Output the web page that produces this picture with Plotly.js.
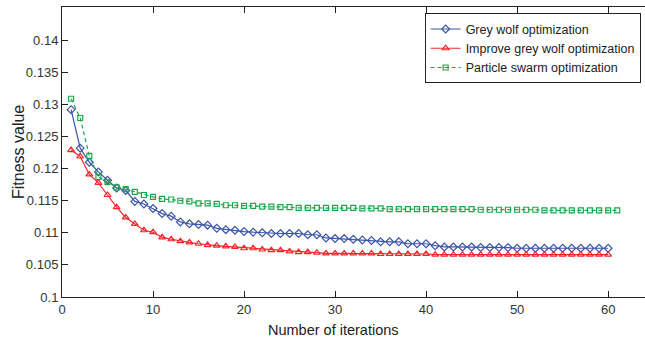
<!DOCTYPE html>
<html>
<head>
<meta charset="utf-8">
<script src="https://cdn.plot.ly/plotly-3.0.1.min.js"></script>
<style>html,body{margin:0;padding:0;overflow:hidden;background:#fff;}</style>
</head>
<body>
<div id="chart" style="width:645px;height:343px;"></div>
<script>
// Iterations
var iterGWO = [];
for (var i = 1; i <= 60; i++) iterGWO.push(i);
var iterPSO = [];
for (var j = 1; j <= 61; j++) iterPSO.push(j);

// Series values
var gwo = [0.1292,0.1232,0.1210,0.1195,0.1182,0.1170,0.1166,0.1149,0.1145,0.1138,
           0.1130,0.1126,0.1117,0.1114,0.1113,0.1112,0.1107,0.1105,0.1104,0.1102,
           0.1101,0.1100,0.1099,0.1099,0.1099,0.1099,0.1097,0.1097,0.1092,0.1091,
           0.1091,0.1090,0.1089,0.1088,0.1086,0.1086,0.1086,0.1083,0.1083,0.1083,
           0.1080,0.1078,0.1078,0.1078,0.1078,0.1077,0.1077,0.1077,0.1077,0.1076,
           0.1076,0.1076,0.1076,0.1076,0.1076,0.1076,0.1076,0.1076,0.1076,0.1076];
var igwo = [0.1229,0.1219,0.1191,0.1178,0.1159,0.1140,0.1124,0.1114,0.1104,0.1101,
            0.1093,0.1090,0.1087,0.1085,0.1083,0.1081,0.1080,0.1079,0.1078,0.1076,
            0.1076,0.1074,0.1073,0.1073,0.1071,0.1070,0.1070,0.1069,0.1068,0.1068,
            0.1068,0.1068,0.1068,0.1068,0.1067,0.1067,0.1067,0.1067,0.1067,0.1067,
            0.1066,0.1066,0.1066,0.1066,0.1066,0.1066,0.1066,0.1066,0.1066,0.1066,
            0.1066,0.1066,0.1066,0.1066,0.1066,0.1066,0.1066,0.1066,0.1066,0.1066];
var pso = [0.1309,0.1279,0.1220,0.1187,0.1179,0.1171,0.1168,0.1164,0.1159,0.1156,
           0.1153,0.1152,0.1150,0.1149,0.1146,0.1146,0.1145,0.1143,0.1143,0.1142,
           0.1142,0.1141,0.1141,0.1140,0.1140,0.1139,0.1139,0.1139,0.1139,0.1139,
           0.1139,0.1139,0.1138,0.1138,0.1138,0.1137,0.1137,0.1137,0.1137,0.1137,
           0.1137,0.1137,0.1137,0.1137,0.1137,0.1136,0.1136,0.1136,0.1136,0.1136,
           0.1136,0.1136,0.1135,0.1135,0.1135,0.1135,0.1135,0.1135,0.1135,0.1135,
           0.1135];

var seriesNames = ["Grey wolf optimization", "Improve grey wolf optimization", "Particle swarm optimization"];
var xTitle = "Number of iterations";
var yTitle = "Fitness value";

// Tick labels
var xTickVals = [0, 10, 20, 30, 40, 50, 60];
var xTickText = ["0", "10", "20", "30", "40", "50", "60"];
var yTickVals = [0.1, 0.105, 0.11, 0.115, 0.12, 0.125, 0.13, 0.135, 0.14];
var yTickText = ["0.1", "0.105", "0.11", "0.115", "0.12", "0.125", "0.13", "0.135", "0.14"];

var FONT = "Liberation Sans, Arial, sans-serif";

var traces = [
  {
    x: iterGWO, y: gwo, name: seriesNames[0], type: "scatter", mode: "lines+markers",
    line: {color: "#3b55a8", width: 1.2},
    marker: {symbol: "diamond-open", size: 6, color: "#3b55a8", line: {width: 1.2}}
  },
  {
    x: iterGWO, y: igwo, name: seriesNames[1], type: "scatter", mode: "lines+markers",
    line: {color: "#f0282d", width: 1.2},
    marker: {symbol: "triangle-up-open", size: 6, color: "#f0282d", line: {width: 1.2}}
  },
  {
    x: iterPSO, y: pso, name: seriesNames[2], type: "scatter", mode: "lines+markers",
    line: {color: "#1ea64d", width: 1.2, dash: "4px,3px"},
    marker: {symbol: "square-open", size: 5, color: "#1ea64d", line: {width: 1.2}}
  }
];

var layout = {
  width: 645, height: 343,
  margin: {l: 62, r: 0, t: 7, b: 46, autoexpand: false},
  paper_bgcolor: "#fff", plot_bgcolor: "#fff",
  font: {family: FONT, size: 13, color: "#222"},
  showlegend: true,
  legend: {
    x: 0.622, xanchor: "left", y: 0.978, yanchor: "top",
    bgcolor: "#fff", bordercolor: "#222", borderwidth: 1,
    font: {family: FONT, size: 12.5, color: "#222"},
    tracegroupgap: 0
  },
  xaxis: {
    range: [0, 64.05],
    tickmode: "array", tickvals: xTickVals, ticktext: xTickText,
    ticks: "inside", ticklen: 6, tickwidth: 1, tickcolor: "#222",
    showline: true, linecolor: "#222", linewidth: 1, mirror: "ticks",
    showgrid: false, zeroline: false,
    tickfont: {family: FONT, size: 13, color: "#333"}
  },
  yaxis: {
    range: [0.1, 0.1452],
    tickmode: "array", tickvals: yTickVals, ticktext: yTickText,
    ticks: "inside", ticklen: 6, tickwidth: 1, tickcolor: "#222",
    showline: true, linecolor: "#222", linewidth: 1, mirror: false,
    showgrid: false, zeroline: false,
    tickfont: {family: FONT, size: 13, color: "#333"}
  },
  annotations: [
    {text: xTitle, xref: "paper", yref: "paper", x: (333 - 62) / 583, y: -(330 - 297) / 290,
     xanchor: "center", yanchor: "middle", showarrow: false,
     font: {family: FONT, size: 14.5, color: "#222"}},
    {text: yTitle, xref: "paper", yref: "paper", x: -(62 - 18) / 583, y: (297 - 152) / 290,
     xanchor: "center", yanchor: "middle", showarrow: false, textangle: -90,
     font: {family: FONT, size: 16, color: "#222"}}
  ]
};

Plotly.newPlot("chart", traces, layout, {displayModeBar: false, staticPlot: true});
</script>
</body>
</html>
